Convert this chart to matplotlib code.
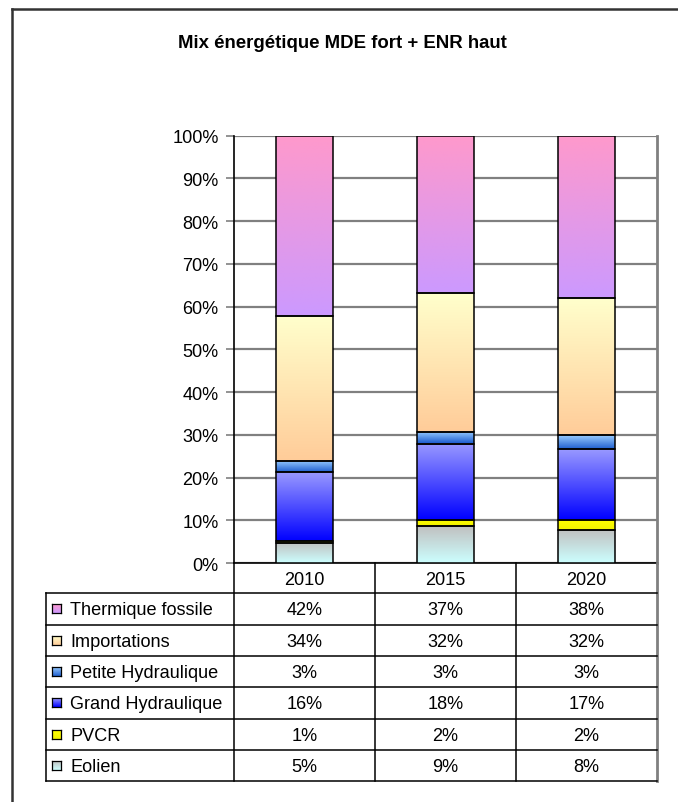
import numpy as np
import matplotlib
matplotlib.use("Agg")
import matplotlib.pyplot as plt
from matplotlib.lines import Line2D
from matplotlib.colors import LinearSegmentedColormap

plt.rcParams['font.family'] = ['Liberation Sans', 'DejaVu Sans']

title = "Mix énergétique MDE fort + ENR haut"
years = ["2010", "2015", "2020"]
# series listed bottom -> top
series = ["Eolien", "PVCR", "Grand Hydraulique", "Petite Hydraulique", "Importations", "Thermique fossile"]
eolien = [4.7, 8.6, 7.8]
pvcr = [0.6, 1.5, 2.4]
grand_hydro = [16.0, 17.9, 16.6]
petite_hydro = [2.6, 2.8, 3.2]
importations = [33.9, 32.3, 32.0]
thermique = [42.2, 36.9, 38.0]
values = [eolien, pvcr, grand_hydro, petite_hydro, importations, thermique]
# gradient colours (top, bottom)
grad = [("#C0C0C0", "#CCFFFF"),
        ("#FFFF00", "#F0F000"),
        ("#9999FF", "#0000FF"),
        ("#99CCFF", "#1F5FD0"),
        ("#FFFFCC", "#FFCC99"),
        ("#FF99CC", "#CC99FF")]

FS = 13.1
W, H = 678, 803
fig = plt.figure(figsize=(W / 100, H / 100), dpi=100)

def fx(px):
    return px / W

def fy(py):
    return 1 - py / H

ax_l, ax_r, ax_t, ax_b = 234, 657, 136.7, 564.2
ax = fig.add_axes([fx(ax_l), fy(ax_b), fx(ax_r - ax_l), (ax_b - ax_t) / H])
ax.set_xlim(-0.5, 2.5)
ax.set_ylim(0, 100)
ax.set_yticks(np.arange(0, 101, 10))
ax.set_yticklabels([f"{v}%" for v in range(0, 101, 10)], fontsize=FS)
ax.set_xticks([])
ax.yaxis.grid(True, color="#808080", linewidth=1.6)
ax.set_axisbelow(True)
ax.spines["top"].set_visible(False)
ax.spines["right"].set_color("#808080")
ax.spines["right"].set_linewidth(2)
ax.spines["left"].set_linewidth(1.2)
ax.spines["bottom"].set_linewidth(1.2)
ax.tick_params(axis="y", length=6, width=1.2, color="#808080", pad=5)

x = np.arange(len(years))
bw = 0.40
bottom = np.zeros(len(years))
grad_img = np.linspace(0, 1, 256).reshape(-1, 1)
for vals, (ctop, cbot) in zip(values, grad):
    vals = np.array(vals)
    cmap = LinearSegmentedColormap.from_list("g", [cbot, ctop])
    bars = ax.bar(x, vals, bw, bottom=bottom, facecolor="none", edgecolor="black",
                  linewidth=1.1, zorder=4)
    for xi, b, v in zip(x, bottom, vals):
        ax.imshow(grad_img, cmap=cmap, origin="lower", aspect="auto",
                  extent=[xi - bw / 2, xi + bw / 2, b, b + v], zorder=3,
                  interpolation="bilinear")
    bottom = bottom + vals
ax.set_xlim(-0.5, 2.5)
ax.set_ylim(0, 100)

# title
fig.text(fx(342.5), fy(44), title, ha="center", va="center", fontsize=13.4, fontweight="bold")

# outer border (left and top visible)
fig.add_artist(Line2D([fx(12), fx(12)], [fy(10), 0], color="#333333", linewidth=1.8))
fig.add_artist(Line2D([fx(12), 1], [fy(10), fy(10)], color="#333333", linewidth=1.8))

# data table
tab_l = 46
head_b = 594.3
tab_b = 782.3
col_w = (ax_r - ax_l) / 3
n_rows = len(series)
row_h = (tab_b - head_b) / n_rows

def line(x0, x1, y0, y1, c="black", lw=1.1):
    fig.add_artist(Line2D([fx(x0), fx(x1)], [fy(y0), fy(y1)], color=c, linewidth=lw))

# header
for i, yr in enumerate(years):
    cx = ax_l + col_w * (i + 0.5)
    fig.text(fx(cx), fy((ax_b + head_b) / 2 + 1), yr, ha="center", va="center", fontsize=FS)
for i in range(1, 3):
    xx = ax_l + col_w * i
    line(xx, xx, ax_b, tab_b)
line(ax_l, ax_l, ax_b, tab_b)
line(ax_r, ax_r, ax_b, tab_b, c="#808080", lw=2)
line(tab_l, tab_l, head_b, tab_b)
line(tab_l, ax_r, head_b, head_b)
line(tab_l, ax_r, tab_b, tab_b)

rows_top = list(zip(series, values, grad))[::-1]
for r, (name, vals, (ctop, cbot)) in enumerate(rows_top):
    y0 = head_b + r * row_h
    yc = y0 + row_h / 2
    if r > 0:
        line(tab_l, ax_r, y0, y0)
    # legend marker with gradient
    mk = 9
    mx0 = 51.5
    max_ = fig.add_axes([fx(mx0), fy(yc + mk / 2), fx(mk), mk / H])
    cmap = LinearSegmentedColormap.from_list("g", [cbot, ctop])
    max_.imshow(grad_img, cmap=cmap, origin="lower", aspect="auto", extent=[0, 1, 0, 1])
    max_.set_xticks([]); max_.set_yticks([])
    for sp in max_.spines.values():
        sp.set_linewidth(0.9)
    fig.text(fx(70), fy(yc + 1), name, ha="left", va="center", fontsize=FS)
    for i, v in enumerate(vals):
        cx = ax_l + col_w * (i + 0.5)
        fig.text(fx(cx), fy(yc + 1), f"{round(v):d}%", ha="center", va="center", fontsize=FS)

fig.savefig("out.png", dpi=100)
